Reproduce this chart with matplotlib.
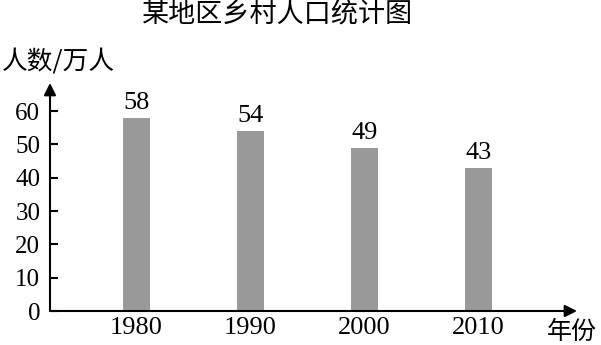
import matplotlib
matplotlib.use("Agg")
import matplotlib.pyplot as plt
import numpy as np

# chart data
years = ["1980", "1990", "2000", "2010"]
population = [58, 54, 49, 43]
y_ticks = [0, 10, 20, 30, 40, 50, 60]

cjk = ["Noto Sans CJK SC", "DejaVu Sans"]
serif = ["Liberation Serif", "DejaVu Serif"]

fig = plt.figure(figsize=(6.01, 3.45), dpi=100)
ax = fig.add_axes([50 / 601, 34 / 345, 527 / 601, 228 / 345])

x = np.arange(len(years))
bars = ax.bar(x, population, width=0.237, color="#999999")
ax.set_xlim(-0.759, 3.864)
ax.set_ylim(0, 68.4)

for rect, v in zip(bars, population):
    ax.annotate(str(v), (rect.get_x() + rect.get_width() / 2, v),
                xytext=(0, 3), textcoords="offset points",
                ha="center", va="bottom", fontsize=19, family=serif)

for s in ax.spines.values():
    s.set_visible(False)

# axis arrows
ax.annotate("", xy=(1, 0), xytext=(0, 0), xycoords="axes fraction",
            arrowprops=dict(arrowstyle="-|>", lw=1.5, color="black",
                            mutation_scale=18, shrinkA=0, shrinkB=0))
ax.annotate("", xy=(0, 1), xytext=(0, 0), xycoords="axes fraction",
            arrowprops=dict(arrowstyle="-|>", lw=1.5, color="black",
                            mutation_scale=18, shrinkA=0, shrinkB=0))

ax.set_yticks(y_ticks)
ax.set_yticklabels([str(t) for t in y_ticks], fontsize=18, family=serif)
ax.tick_params(axis="y", direction="in", length=6, width=1.5, pad=7)
ax.set_xticks(x)
ax.set_xticklabels(years, fontsize=19, family=serif)
ax.tick_params(axis="x", length=0, pad=4)

fig.text(278 / 601, 1 - 15 / 345, "某地区乡村人口统计图", ha="center", va="center",
         fontsize=19.5, family=cjk)
fig.text(58 / 601, 1 - 62 / 345, "人数/万人", ha="center", va="center",
         fontsize=18.5, family=cjk)
fig.text(572 / 601, 1 - 332 / 345, "年份", ha="center", va="center",
         fontsize=18, family=cjk)

fig.savefig("out.png", dpi=100)
